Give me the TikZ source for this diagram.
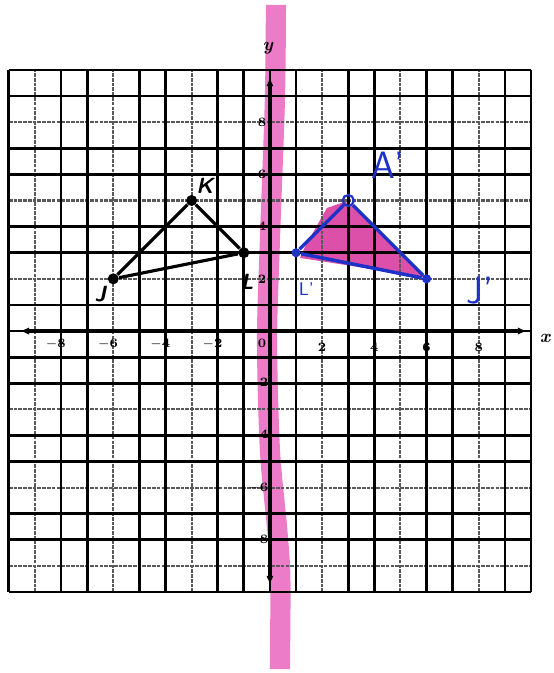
\documentclass[tikz,border=0pt]{standalone}
\usepackage{tikz}
\usetikzlibrary{
	arrows.meta,
	positioning,
	calc
}
\definecolor{hlpink}{RGB}{236,124,200}
\definecolor{fillpink}{RGB}{220,80,170}
\definecolor{penblue}{RGB}{30,50,200}

\begin{document}
\begin{tikzpicture}[
				x=0.5cm, y=0.5cm,
				gridline/.style={
					black, line width=1.5pt
				},
				faintline/.style={
					black!65, line width=1.1pt,
					dash pattern=on 2pt off 0.6pt
				},
				axisline/.style={
					black, line width=1.8pt,
					{Latex[length=5pt,width=4pt]}-{Latex[length=5pt,width=4pt]}
				},
				tick/.style={font=\scriptsize\bfseries, inner sep=1pt},
				vertex/.style={circle, fill=black, inner sep=0pt, minimum size=6pt},
				penvertex/.style={circle, fill=penblue, inner sep=0pt, minimum size=5pt},
				penring/.style={circle, draw=penblue, line width=1.2pt, inner sep=0pt, minimum size=6pt},
				ptlabel/.style={font=\sffamily\bfseries\itshape\large, inner sep=0pt},
				penlabel/.style={text=penblue, font=\sffamily\huge, inner sep=0pt},
				edge/.style={black, line width=1.7pt},
				penedge/.style={penblue, line width=1.9pt}
				]
				
				\useasboundingbox (-10.34,-13.10) rectangle (10.88,12.68);
				
				% highlighter stroke
				\draw[hlpink, line width=11pt, line cap=butt]
					plot[smooth] coordinates {(0.23,12.49) (0.19,8.85) (0,3.49) (-0.11,-0.34) (0,-4.56) (0.28,-7.6) (0.4,-9.5) (0.38,-12.95)};
				
				% shading of the image
				\fill[fillpink] (2.18,4.71) -- (2.87,4.95) -- (3.1,4.85) -- (6,2.05) -- (1.15,2.8) -- (1.34,3.22) -- cycle;
				
				% grid
				\foreach \i in {-9,-6,-3,2,5,8} {
					\draw[faintline] (\i,-10) -- (\i,10);
					\draw[faintline] (-10,\i) -- (10,\i);
				}
				\foreach \i in {-10,-8,-7,-5,-4,-2,-1,0,1,3,4,6,7,9,10} {
					\draw[gridline] (\i,-10) -- (\i,10);
					\draw[gridline] (-10,\i) -- (10,\i);
				}
				
				% axes
				\coordinate (xmin) at (-9.58,0);
				\coordinate (xmax) at (9.85,0);
				\coordinate (ymin) at (0,-9.73);
				\coordinate (ymax) at (0,9.73);
				\draw[axisline] (xmin) -- (xmax);
				\draw[axisline] (ymin) -- (ymax);
				\node[font=\bfseries\itshape] (xname) at (10.54,-0.27) {x};
				\node[font=\bfseries\itshape] (yname) at (-0.08,10.84) {y};
				
				% tick labels
				\foreach \v in {8,6,4,2} {
					\node[tick] (xtm\v) at (-\v-0.2,-0.5) {$\mathbf{-}$\v};
				}
				\foreach \v in {2,4,6,8} {
					\node[tick] (xt\v) at (\v,-0.62) {\v};
				}
				\foreach \v in {2,4,6,8} {
					\node[tick, anchor=east] (yt\v) at (-0.06,\v) {\v};
				}
				\foreach \v in {2,4,6,8} {
					\node[tick, anchor=east] (ytm\v) at (0.02,-\v) {$\mathbf{-}$\v};
				}
				\node[tick] (origin) at (-0.3,-0.46) {0};
				
				% triangle JKL
				\node[vertex] (J) at (-6,2) {};
				\node[vertex] (K) at (-3,5) {};
				\node[vertex] (L) at (-1,3) {};
				\draw[edge] (J) -- (K);
				\draw[edge] (K) -- (L);
				\draw[edge] (L) -- (J);
				\node[ptlabel] (Jname) at (-6.5,1.4) {J};
				\node[ptlabel] (Kname) at (-2.5,5.55) {K};
				\node[ptlabel] (Lname) at (-0.88,1.9) {L};
				
				% image J'A'L'
				\node[penring] (Ap) at (3,5) {};
				\node[penvertex] (Lp) at (1,3) {};
				\node[penvertex] (Jp) at (6,2) {};
				\draw[penedge] (Lp) -- (Ap);
				\draw[penedge] (Ap) -- (Jp);
				\draw[penedge] (Jp) -- (Lp);
				\node[penlabel] (Apname) at (4.52,6.36) {A'};
				\node[penlabel] (Jpname) at (8.05,1.55) {J'};
				\node[penlabel, font=\sffamily] (Lpname) at (1.4,1.6) {L'};
			\end{tikzpicture}
\end{document}
